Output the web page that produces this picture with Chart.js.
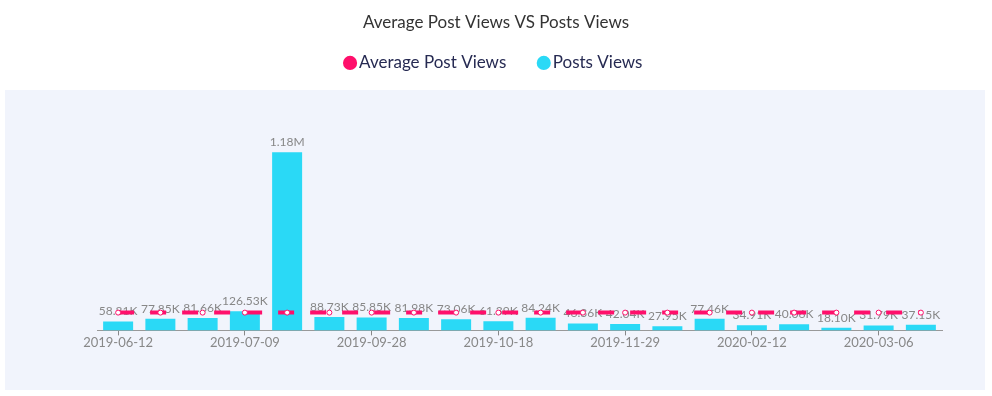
<!DOCTYPE html>
<html>
<head>
<meta charset="utf-8">
<script src="https://cdn.jsdelivr.net/npm/chart.js@4.4.1/dist/chart.umd.min.js"></script>
<style>
  html, body { margin: 0; padding: 0; background: #fff; }
  #wrap { width: 992px; height: 396px; }
</style>
</head>
<body>
<div id="wrap"><canvas id="viewsChart" width="992" height="396"></canvas></div>
<script>
// dates of the posts (only every third one is labelled on the axis)
const postDates = [
  '2019-06-12', '2019-06-20', '2019-06-28', '2019-07-09', '2019-08-14',
  '2019-09-05', '2019-09-28', '2019-10-04', '2019-10-11', '2019-10-18',
  '2019-10-30', '2019-11-14', '2019-11-29', '2019-12-18', '2020-01-22',
  '2020-02-12', '2020-02-20', '2020-02-28', '2020-03-06', '2020-03-13'
];

const postViews = [
  58810, 77850, 81660, 126530, 1180000,
  88730, 85850, 81980, 73060, 61390,
  84240, 46360, 42040, 27950, 77460,
  34910, 40060, 18100, 31790, 37150
];

const avgPostViews = [
  117796, 117796, 117796, 117796, 117796,
  117796, 117796, 117796, 117796, 117796,
  117796, 117796, 117796, 117796, 117796,
  117796, 117796, 117796, 117796, 117796
];

const pink = '#ff0f6b';
const cyan = '#2ad9f6';

Chart.defaults.font.family = 'Lato, "Open Sans", sans-serif';

function shortNum(v) {
  if (v >= 1000000) return (v / 1000000).toFixed(2) + 'M';
  return (v / 1000).toFixed(2) + 'K';
}

// hidden side axes just reserve room so title/legend stay centred
function spacerAxis(pos, w) {
  return {
    position: pos,
    display: true,
    min: 0,
    max: 1650000,
    grid: { display: false },
    border: { display: false },
    ticks: { display: false },
    afterFit: (s) => { s.width = w; }
  };
}

// light panel behind the plot
const panelBg = {
  id: 'panelBg',
  beforeDraw(chart) {
    const ctx = chart.ctx;
    ctx.save();
    ctx.fillStyle = '#f1f4fc';
    ctx.fillRect(5, 90, chart.width - 12, chart.height - 96);
    ctx.restore();
  }
};

// value labels above the bars
const barLabels = {
  id: 'barLabels',
  afterDatasetDraw(chart, args) {
    const ds = chart.data.datasets[args.index];
    if (ds.type !== 'bar') return;
    const ctx = chart.ctx;
    ctx.save();
    ctx.font = '12px Lato';
    ctx.fillStyle = '#878787';
    ctx.textAlign = 'center';
    ctx.textBaseline = 'bottom';
    args.meta.data.forEach((bar, i) => {
      ctx.fillText(shortNum(ds.data[i]), bar.x, bar.y - 4);
    });
    ctx.restore();
  }
};

new Chart(document.getElementById('viewsChart'), {
  data: {
    labels: postDates,
    datasets: [
      {
        type: 'line',
        label: 'Average Post Views',
        data: avgPostViews,
        order: 0,
        borderColor: pink,
        backgroundColor: pink,
        borderWidth: 4,
        borderDash: [16, 16],
        fill: false,
        pointRadius: 2.5,
        pointBorderWidth: 1,
        pointBackgroundColor: '#fff',
        pointBorderColor: pink
      },
      {
        type: 'bar',
        label: 'Posts Views',
        data: postViews,
        order: 1,
        backgroundColor: cyan,
        borderColor: cyan,
        categoryPercentage: 0.71,
        barPercentage: 1
      }
    ]
  },
  options: {
    responsive: false,
    animation: false,
    layout: {
      padding: { bottom: 45 }
    },
    scales: {
      x: {
        grid: {
          offset: false,
          drawOnChartArea: false,
          tickLength: 5,
          color: (c) => (c.index % 3 === 0 ? '#888' : 'transparent')
        },
        border: { color: '#999' },
        ticks: {
          autoSkip: false,
          maxRotation: 0,
          padding: 0,
          color: '#888',
          font: { size: 13 },
          callback: function (value, index) {
            return index % 3 === 0 ? postDates[index] : '';
          }
        }
      },
      y: spacerAxis('left', 97),
      yR: spacerAxis('right', 50)
    },
    plugins: {
      title: {
        display: true,
        text: 'Average Post Views VS Posts Views',
        color: '#333',
        font: { size: 17, weight: 'normal' },
        padding: { top: 12, bottom: -15 }
      },
      legend: {
        labels: {
          usePointStyle: true,
          pointStyle: 'circle',
          boxWidth: 1,
          boxHeight: 10,
          padding: 37,
          color: '#262a52',
          font: { size: 17 },
          generateLabels(chart) {
            const items = Chart.defaults.plugins.legend.labels.generateLabels(chart);
            items.forEach((it) => {
              it.fillStyle = it.strokeStyle;
              it.lineWidth = 0;
            });
            return items;
          }
        }
      },
      tooltip: { enabled: false }
    }
  },
  plugins: [panelBg, barLabels]
});
</script>
</body>
</html>
